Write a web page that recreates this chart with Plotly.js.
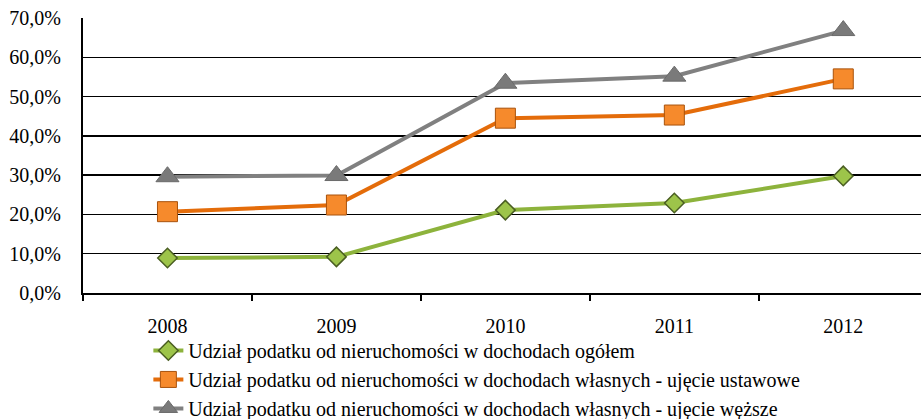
<!DOCTYPE html>
<html>
<head>
<meta charset="utf-8">
<script src="https://cdn.plot.ly/plotly-3.0.1.min.js"></script>
<style>
  html, body { margin: 0; padding: 0; background: #fff; }
  #chart { width: 921px; height: 419px; }
</style>
</head>
<body>
<div id="chart"></div>
<script>
// Values (percent)
const years = ["2008", "2009", "2010", "2011", "2012"];
const shareTotal = [8.9, 9.2, 21.1, 22.9, 29.8];
const shareOwnStatutory = [20.7, 22.4, 44.5, 45.3, 54.5];
const shareOwnNarrow = [29.6, 29.9, 53.4, 55.2, 66.8];
const seriesNames = [
    "Udział podatku od nieruchomości w dochodach ogółem",
    "Udział podatku od nieruchomości w dochodach własnych - ujęcie ustawowe",
    "Udział podatku od nieruchomości w dochodach własnych - ujęcie węższe"
];

const serif = "'Liberation Serif', 'Times New Roman', serif";

const traces = [
    {
        x: years, y: shareTotal, name: seriesNames[0],
        type: "scatter", mode: "lines+markers",
        line: { color: "#8db33c", width: 4 },
        marker: { symbol: "diamond", size: 15, color: "#9dc44a", line: { color: "#4a5e22", width: 1.5 } }
    },
    {
        x: years, y: shareOwnStatutory, name: seriesNames[1],
        type: "scatter", mode: "lines+markers",
        line: { color: "#e46c0a", width: 4 },
        marker: { symbol: "square", size: 20, color: "#f68a2c", line: { color: "#a8520c", width: 1 } }
    },
    {
        x: years, y: shareOwnNarrow, name: seriesNames[2],
        type: "scatter", mode: "lines+markers",
        line: { color: "#808080", width: 4 },
        marker: { symbol: "triangle-up", size: 20, color: "#7a7a7a", line: { color: "#6a6a6a", width: 1 } }
    }
];

const layout = {
    width: 921,
    height: 419,
    paper_bgcolor: "#ffffff",
    plot_bgcolor: "#ffffff",
    separators: ", ",
    font: { family: serif, size: 20, color: "#000000" },
    // keep the plot box fixed; the legend sits in the bottom margin
    margin: { l: 83, r: 0, t: 18, b: 126, autoexpand: false },
    showlegend: true,
    legend: {
        orientation: "v",
        x: 0.078,
        xanchor: "left",
        y: -0.138,
        yanchor: "top",
        font: { family: serif, size: 20, color: "#000000" },
        tracegroupgap: 0,
        itemwidth: 30,
        bgcolor: "rgba(0,0,0,0)"
    },
    xaxis: {
        type: "category",
        range: [-0.5, 4.46],
        showline: true,
        linecolor: "#000000",
        linewidth: 2,
        showgrid: false,
        ticks: "outside",
        tickson: "boundaries",
        ticklen: 6,
        tickwidth: 2,
        tickcolor: "#000000",
        ticklabelstandoff: 14,
        tickfont: { family: serif, size: 20, color: "#000000" },
        zeroline: false
    },
    yaxis: {
        range: [0, 70],
        dtick: 10,
        tickformat: ".1f",
        ticksuffix: "%",
        showline: true,
        linecolor: "#000000",
        linewidth: 2,
        showgrid: true,
        gridcolor: "#000000",
        gridwidth: 1.5,
        ticks: "",
        ticklabelstandoff: 16,
        tickfont: { family: serif, size: 20, color: "#000000" },
        zeroline: false
    }
};

Plotly.newPlot("chart", traces, layout, { displayModeBar: false, staticPlot: true });
</script>
</body>
</html>
